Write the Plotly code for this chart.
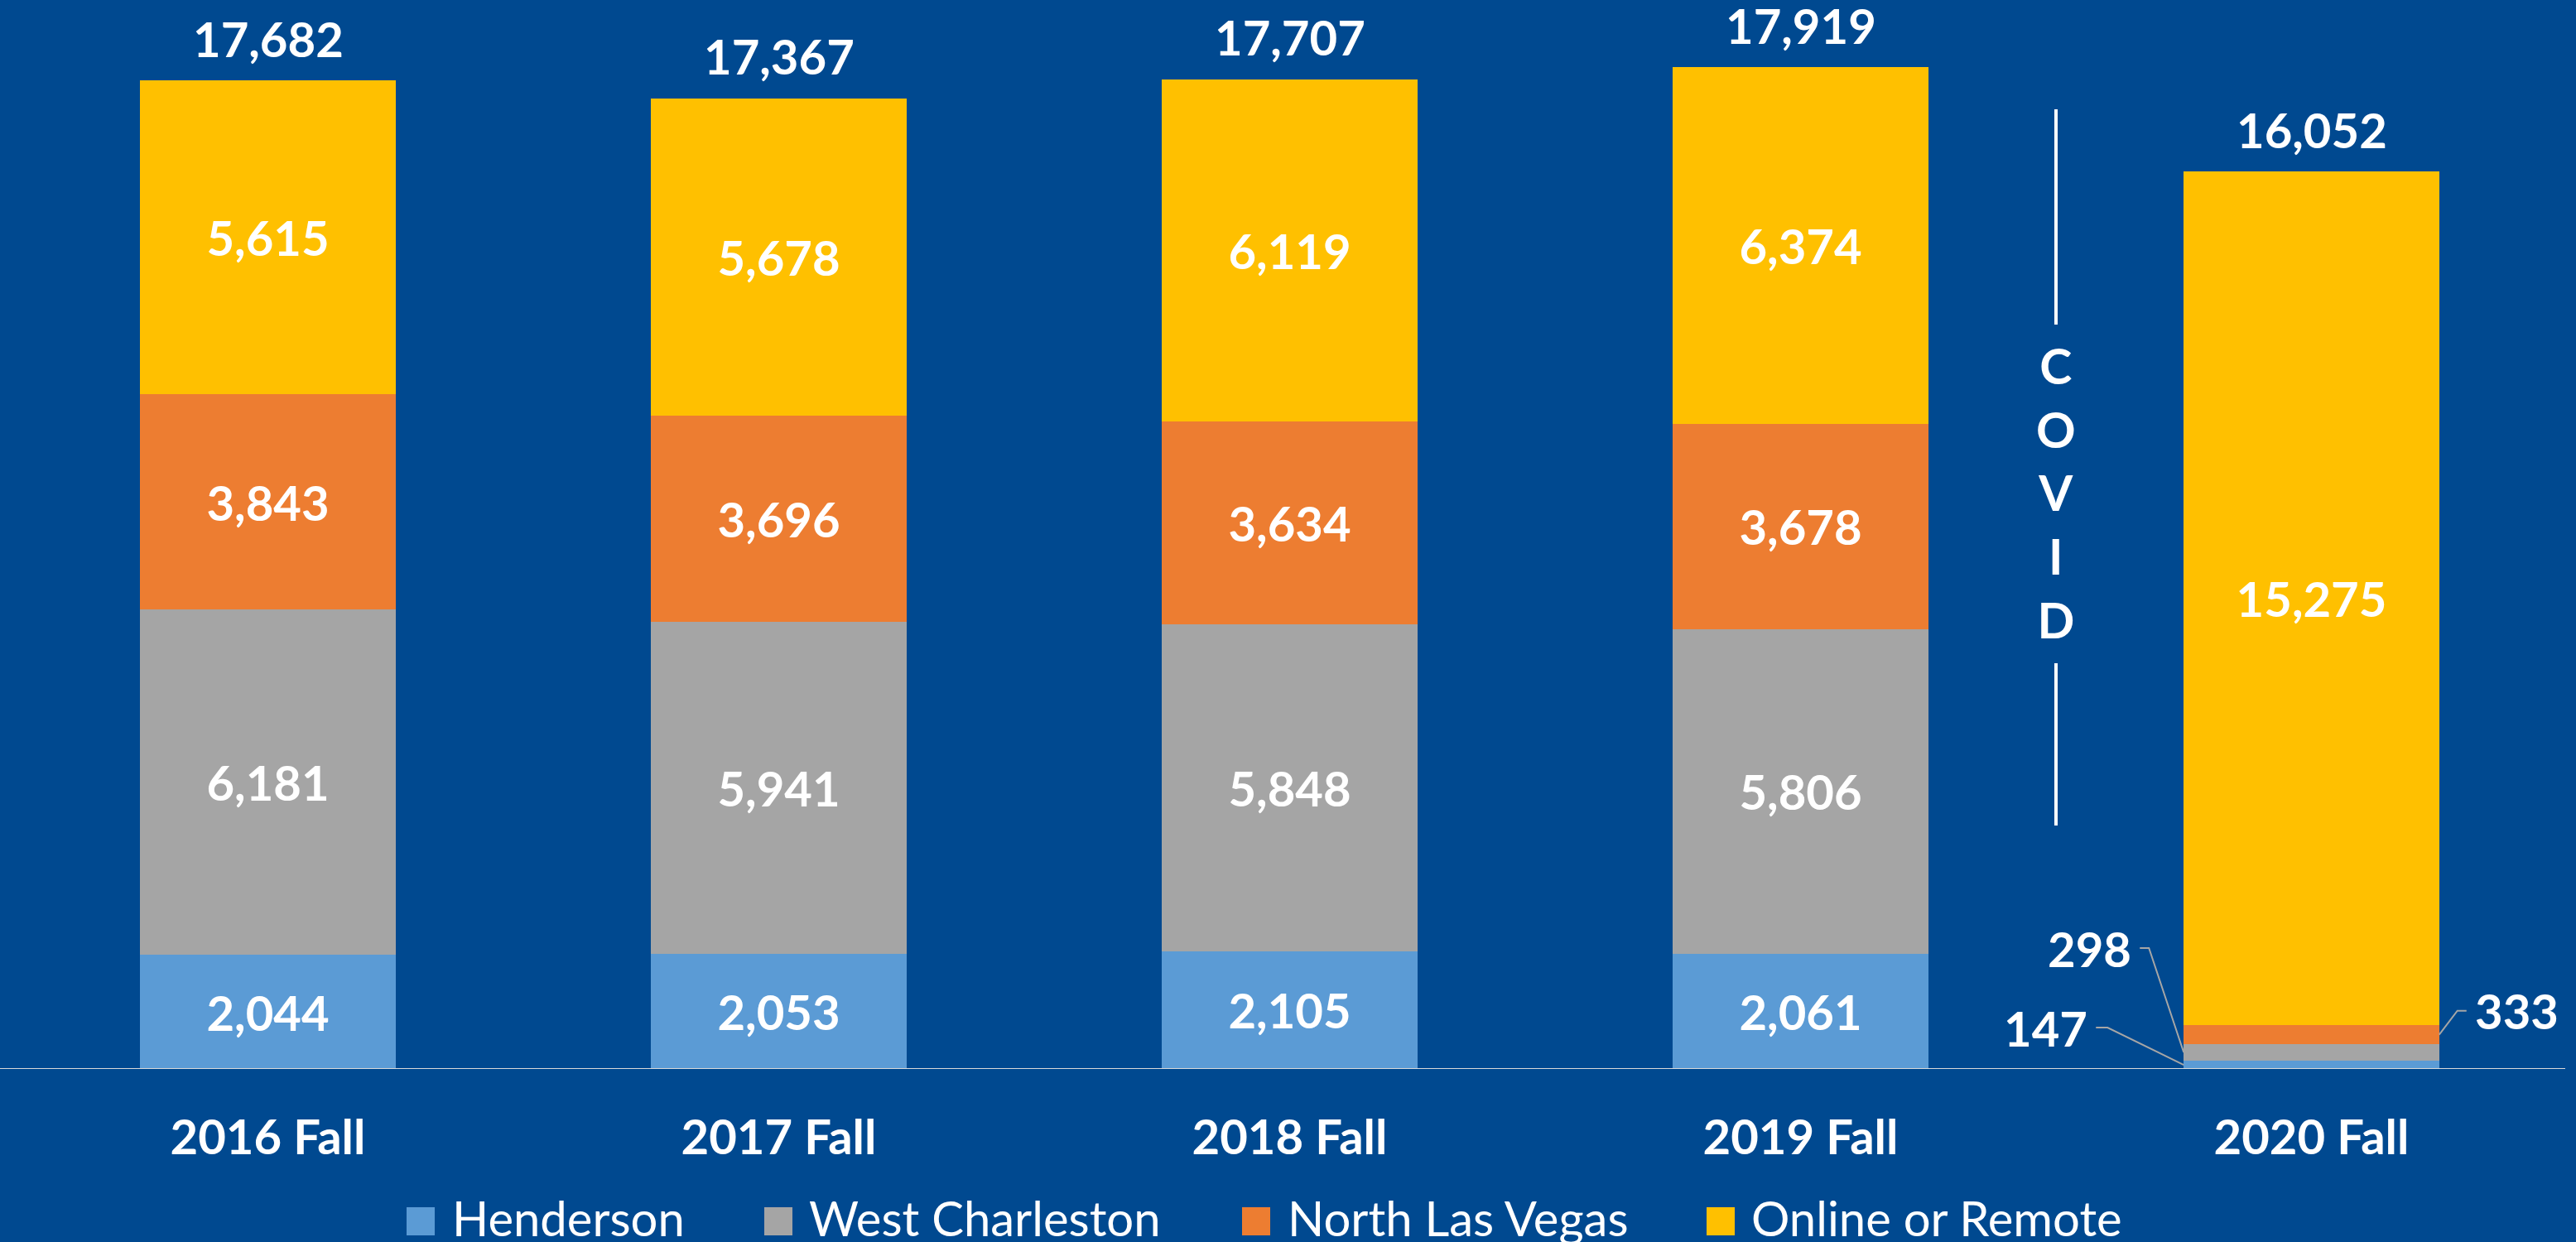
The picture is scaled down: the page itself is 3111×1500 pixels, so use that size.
import plotly.graph_objects as go

# ---------------- data ----------------
categories = ["2016 Fall", "2017 Fall", "2018 Fall", "2019 Fall", "2020 Fall"]
henderson = [2044, 2053, 2105, 2061, 147]
west_charleston = [6181, 5941, 5848, 5806, 298]
north_las_vegas = [3843, 3696, 3634, 3678, 333]
online_remote = [5615, 5678, 6119, 6374, 15275]
totals = [17682, 17367, 17707, 17919, 16052]
series_names = ["Henderson", "West Charleston", "North Las Vegas", "Online or Remote"]
series_values = [henderson, west_charleston, north_las_vegas, online_remote]
series_colors = ["#5B9BD5", "#A5A5A5", "#ED7D31", "#FFC000"]

# ---------------- layout constants ----------------
W, H = 3111, 1500
ML, MR, MT, MB = 15, 11, 20, 209
PLOT_W = W - ML - MR
PLOT_H = H - MT - MB
XR = [-0.5, len(categories) - 0.5]
YMAX = 18830
PPX = PLOT_W / (XR[1] - XR[0])
PPY = PLOT_H / YMAX
BAR_W = 0.5
BG = "#004990"
FONT = "Lato"
FS = 58


def px_y(py):
    return (H - MB - py) / PPY


def paper_x(px):
    return (px - ML) / PLOT_W


def paper_y(py):
    return (H - MB - py) / PLOT_H


x_idx = list(range(len(categories)))

fig = go.Figure()
for name, vals, col in zip(series_names, series_values, series_colors):
    fig.add_trace(go.Bar(
        x=x_idx, y=vals, name=name, width=BAR_W,
        marker=dict(color=col, line=dict(width=0)),
        text=[f"{v:,}" if v >= 1000 else "" for v in vals],
        textposition="inside", insidetextanchor="middle",
        constraintext="none", textangle=0,
        textfont=dict(family=FONT, size=FS, color="white", weight="bold"),
        showlegend=False,
    ))

annotations = []
shapes = []

# totals above bars
for i, t in enumerate(totals):
    annotations.append(dict(
        x=i, y=t, xref="x", yref="y", text=f"{t:,}", showarrow=False,
        yanchor="middle", yshift=51,
        font=dict(family=FONT, size=FS, color="white", weight="bold"),
    ))

# small 2020 labels with leader lines
last = len(categories) - 1
cum = 0
mids = []
for vals in series_values:
    mids.append(cum + vals[last] / 2)
    cum += vals[last]

# (series index, side, elbow dx, start dx, dy up) in pixels
leaders = [
    (1, -1, 42, 53, 126),
    (0, -1, 92, 106, 45),
    (2, 1, 22, 33, 29),
]
for s, side, dx_elbow, dx_start, dy in leaders:
    edge_x = last + side * BAR_W / 2
    ey = mids[s]
    elbow_x = edge_x + side * dx_elbow / PPX
    start_x = edge_x + side * dx_start / PPX
    ly = ey + dy / PPY
    shapes.append(dict(
        type="path", xref="x", yref="y",
        path=f"M {start_x},{ly} L {elbow_x},{ly} L {edge_x},{ey}",
        line=dict(color="#A6A6A6", width=2), layer="above",
    ))
    annotations.append(dict(
        x=start_x + side * 8 / PPX, y=ly, xref="x", yref="y",
        text=f"{series_values[s][last]:,}", showarrow=False,
        xanchor="left" if side > 0 else "right", yanchor="middle",
        font=dict(family=FONT, size=FS, color="white", weight="bold"),
    ))

# COVID divider
annotations.append(dict(
    x=last - 0.5, y=px_y(595), xref="x", yref="y",
    text="C<br>O<br>V<br>I<br>D", showarrow=False, yanchor="middle",
    font=dict(family=FONT, size=59, color="white", weight="bold"),
))
for y0, y1 in [(132, 392), (801, 997)]:
    shapes.append(dict(
        type="line", xref="x", yref="y",
        x0=last - 0.5, x1=last - 0.5, y0=px_y(y0), y1=px_y(y1),
        line=dict(color="white", width=4),
    ))

# baseline
shapes.append(dict(
    type="line", xref="paper", yref="y",
    x0=paper_x(0), x1=paper_x(3098), y0=0, y1=0,
    line=dict(color="#D9D9D9", width=2), layer="above",
))

# legend (manual, large swatches)
leg_sq = [491, 923, 1500, 2061]
leg_tx = [544, 975, 1553, 2113]
for name, col, sx, tx in zip(series_names, series_colors, leg_sq, leg_tx):
    shapes.append(dict(
        type="rect", xref="paper", yref="paper",
        x0=paper_x(sx), x1=paper_x(sx + 34),
        y0=paper_y(1492), y1=paper_y(1458),
        fillcolor=col, line=dict(width=0),
    ))
    annotations.append(dict(
        x=paper_x(tx), y=paper_y(1470), xref="paper", yref="paper",
        text=name, showarrow=False, xanchor="left", yanchor="middle",
        font=dict(family=FONT, size=FS, color="white"),
    ))

fig.update_layout(
    width=W, height=H,
    margin=dict(l=ML, r=MR, t=MT, b=MB, pad=0),
    barmode="stack",
    paper_bgcolor=BG, plot_bgcolor=BG,
    showlegend=False,
    xaxis=dict(
        range=XR, tickmode="array", tickvals=x_idx, ticktext=categories,
        showgrid=False, zeroline=False, showline=False, ticks="",
        ticklabelstandoff=44,
        tickfont=dict(family=FONT, size=FS, color="white", weight="bold"),
    ),
    yaxis=dict(range=[0, YMAX], visible=False, showgrid=False, zeroline=False),
    annotations=annotations,
    shapes=shapes,
)

fig.write_html(
    "out.html",
    config={"displayModeBar": False},
    post_script="document.body.style.margin='0';document.body.style.background='" + BG + "';document.body.style.overflow='hidden';",
)
